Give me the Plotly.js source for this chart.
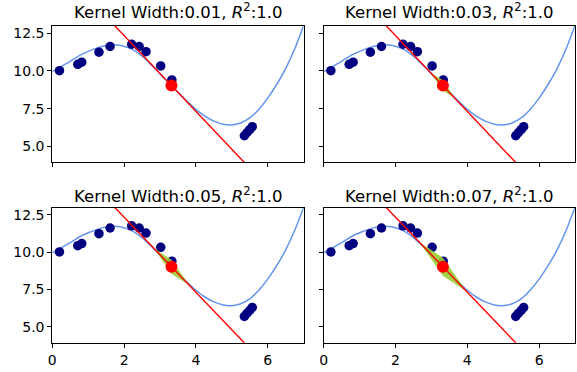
<!DOCTYPE html>
<html>
<head>
<meta charset="utf-8">
<script src="https://cdn.plot.ly/plotly-3.0.1.min.js"></script>
<style>html,body{margin:0;padding:0;background:#fff;}#chart{width:577px;height:372px;}</style>
</head>
<body>
<div id="chart"></div>
<script>
// ---- data ----
const kernelWidths = ["0.01", "0.03", "0.05", "0.07"];
const r2Values = ["1.0", "1.0", "1.0", "1.0"];

// sampled points (navy)
const dotX = [0.20, 0.71, 0.82, 1.30, 1.61, 2.21, 2.42, 2.61, 3.02, 3.33, 5.35, 5.42, 5.50, 5.57];
const dotY = [10.02, 10.44, 10.58, 11.24, 11.62, 11.77, 11.62, 11.28, 10.33, 9.40, 5.70, 5.90, 6.10, 6.30];

// model curve (cornflower blue)
const curveX = [0.0, 0.25, 0.5, 0.75, 1.0, 1.25, 1.5, 1.75, 2.0, 2.25, 2.5, 2.75, 3.0, 3.25, 3.5, 3.75, 4.0, 4.25, 4.5, 4.75, 5.0, 5.25, 5.5, 5.75, 6.0, 6.25, 6.5, 6.75, 7.0];
const curveY = [9.95, 10.30, 10.64, 11.02, 11.30, 11.53, 11.68, 11.73, 11.64, 11.40, 10.98, 10.42, 9.80, 9.20, 8.60, 8.00, 7.45, 7.00, 6.67, 6.47, 6.42, 6.55, 6.88, 7.45, 8.20, 9.10, 10.15, 11.45, 13.00];

// local linear explanation (red line) and explained instance (red point)
const lineX = [1.5, 5.6];
const lineY = [13.60, 3.30];
const pointX = [3.32];
const pointY = [9.03];

// kernel neighbourhood shading (yellow-green), one polygon per panel
const shadeX = [
  [3.20, 3.32, 3.44, 3.32, 3.20],
  [2.98, 3.32, 3.66, 3.32, 2.98],
  [2.82, 3.32, 3.82, 3.32, 2.82],
  [2.66, 3.32, 3.98, 3.32, 2.66]
];
const shadeY = [
  [9.33, 9.20, 8.73, 8.86, 9.33],
  [9.88, 9.38, 8.18, 8.68, 9.88],
  [10.28, 9.50, 7.78, 8.56, 10.28],
  [10.69, 9.63, 7.37, 8.43, 10.69]
];

const xTicks = [0, 2, 4, 6];
const yTicks = [5.0, 7.5, 10.0, 12.5];
const xRange = [0, 7];
const yRange = [3.94, 12.98];

// ---- layout geometry ----
const W = 577, H = 372;
const colDom = [[52.3 / W, 303.6 / W], [323.7 / W, 575 / W]];
const rowDom = [[(H - 162.3) / H, (H - 26) / H], [(H - 342.7) / H, (H - 207.7) / H]];
const titleY = [1 - 11.5 / H, 1 - 194.5 / H];

const font = "DejaVu Sans, Liberation Sans, sans-serif";
const traces = [];
const layout = {
  width: W, height: H,
  margin: {l: 0, r: 0, t: 0, b: 0},
  paper_bgcolor: "#ffffff", plot_bgcolor: "#ffffff",
  showlegend: false,
  font: {family: font, color: "#000", size: 14},
  annotations: []
};

for (let i = 0; i < 4; i++) {
  const row = Math.floor(i / 2), col = i % 2;
  const sfx = i === 0 ? "" : String(i + 1);
  const xa = "x" + sfx, ya = "y" + sfx;

  traces.push({x: curveX, y: curveY, xaxis: xa, yaxis: ya, type: "scatter", mode: "lines",
    line: {color: "#6495ed", width: 1.5, shape: "spline", smoothing: 0.6}, hoverinfo: "skip"});
  traces.push({x: dotX, y: dotY, xaxis: xa, yaxis: ya, type: "scatter", mode: "markers",
    marker: {color: "#000080", size: 9.5}, cliponaxis: true});
  traces.push({x: shadeX[i], y: shadeY[i], xaxis: xa, yaxis: ya, type: "scatter", mode: "lines",
    fill: "toself", fillcolor: "rgba(154,205,50,0.9)", line: {width: 0}, hoverinfo: "skip"});
  traces.push({x: lineX, y: lineY, xaxis: xa, yaxis: ya, type: "scatter", mode: "lines",
    line: {color: "#ff0000", width: 1.4}});
  traces.push({x: pointX, y: pointY, xaxis: xa, yaxis: ya, type: "scatter", mode: "markers",
    marker: {color: "#ff0000", size: 12}});

  const axCommon = {showline: true, mirror: true, linecolor: "#000", linewidth: 1,
    ticks: "outside", ticklen: 4, tickwidth: 1, tickcolor: "#000", showgrid: false, zeroline: false,
    fixedrange: true, tickfont: {family: font, size: 14, color: "#000"}};
  layout["xaxis" + sfx] = Object.assign({}, axCommon, {
    domain: colDom[col], range: xRange, anchor: ya, tickmode: "array", tickvals: xTicks,
    ticktext: xTicks.map(v => String(v)), showticklabels: row === 1});
  layout["yaxis" + sfx] = Object.assign({}, axCommon, {
    domain: rowDom[row], range: yRange, anchor: xa, tickmode: "array", tickvals: yTicks,
    ticktext: yTicks.map(v => v.toFixed(1)), showticklabels: col === 0});

  layout.annotations.push({
    xref: "paper", yref: "paper",
    x: (colDom[col][0] + colDom[col][1]) / 2, y: titleY[row],
    xanchor: "center", yanchor: "middle", showarrow: false,
    text: "Kernel Width:" + kernelWidths[i] + ", <i>R</i><sup>2</sup>:" + r2Values[i],
    font: {family: font, size: 16.5, color: "#000"}
  });
}

Plotly.newPlot("chart", traces, layout, {staticPlot: true, displayModeBar: false});
</script>
</body>
</html>
